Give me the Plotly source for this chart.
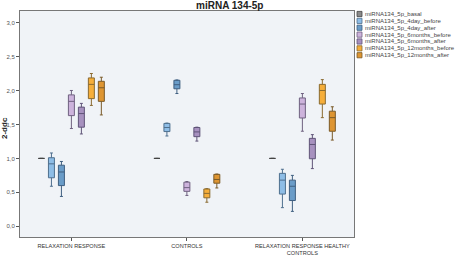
import plotly.graph_objects as go

categories = ["RELAXATION RESPONSE", "CONTROLS", "RELAXATION RESPONSE HEALTHY<br>CONTROLS"]
series_names = ["miRNA134_5p_basal", "miRNA134_5p_4day_before", "miRNA134_5p_4day_after",
                "miRNA134_5p_6months_before", "miRNA134_5p_6months_after",
                "miRNA134_5p_12months_before", "miRNA134_5p_12months_after"]

# per series: values for [RR, CONTROLS, RR healthy controls]
basal_low = [1.0, 1.0, 1.0]
basal_q1 = [1.0, 1.0, 1.0]
basal_med = [1.0, 1.0, 1.0]
basal_q3 = [1.0, 1.0, 1.0]
basal_high = [1.0, 1.0, 1.0]

d4b_low = [0.59, 1.33, 0.275]
d4b_q1 = [0.715, 1.395, 0.475]
d4b_med = [0.92, 1.455, 0.68]
d4b_q3 = [1.01, 1.515, 0.78]
d4b_high = [1.08, 1.52, 0.84]

d4a_low = [0.44, 1.955, 0.22]
d4a_q1 = [0.60, 2.025, 0.38]
d4a_med = [0.80, 2.085, 0.59]
d4a_q3 = [0.90, 2.15, 0.68]
d4a_high = [0.955, 2.155, 0.75]

m6b_low = [1.44, 0.455, 1.40]
m6b_q1 = [1.63, 0.515, 1.595]
m6b_med = [1.84, 0.57, 1.80]
m6b_q3 = [1.935, 0.65, 1.89]
m6b_high = [2.0, 0.66, 1.955]

m6a_low = [1.36, 1.255, 0.85]
m6a_q1 = [1.46, 1.32, 0.995]
m6a_med = [1.66, 1.39, 1.205]
m6a_q3 = [1.755, 1.455, 1.295]
m6a_high = [1.81, 1.46, 1.35]

m12b_low = [1.78, 0.355, 1.60]
m12b_q1 = [1.88, 0.42, 1.80]
m12b_med = [2.09, 0.485, 2.0]
m12b_q3 = [2.185, 0.55, 2.09]
m12b_high = [2.25, 0.555, 2.16]

m12a_low = [1.64, 0.565, 1.27]
m12a_q1 = [1.84, 0.635, 1.40]
m12a_med = [2.04, 0.69, 1.60]
m12a_q3 = [2.135, 0.765, 1.695]
m12a_high = [2.195, 0.77, 1.76]

stats = [
    (basal_low, basal_q1, basal_med, basal_q3, basal_high),
    (d4b_low, d4b_q1, d4b_med, d4b_q3, d4b_high),
    (d4a_low, d4a_q1, d4a_med, d4a_q3, d4a_high),
    (m6b_low, m6b_q1, m6b_med, m6b_q3, m6b_high),
    (m6a_low, m6a_q1, m6a_med, m6a_q3, m6a_high),
    (m12b_low, m12b_q1, m12b_med, m12b_q3, m12b_high),
    (m12a_low, m12a_q1, m12a_med, m12a_q3, m12a_high),
]
fills = ["#8a8a8a", "#8ebde6", "#6a9cc8", "#cdb3dc", "#a791bf", "#f6ae3a", "#de9532"]
lines = ["#444444", "#4e6f8e", "#3f5f80", "#6f6180", "#5f5478", "#8a6a30", "#7a5a28"]

W, H = 455, 261
ML, MR, MT, MB = 20, 101, 11, 24
PW, PH = W - ML - MR, H - MT - MB
FONT = "Liberation Sans"

fig = go.Figure()
for name, (lo, q1, med, q3, hi), fc, lc in zip(series_names, stats, fills, lines):
    fig.add_trace(go.Box(
        name=name, x=categories, lowerfence=lo, q1=q1, median=med, q3=q3, upperfence=hi,
        fillcolor=fc, line=dict(color=lc, width=1), whiskerwidth=0.5, showlegend=False,
    ))

# manual compact legend (plotly's legend rows are too tall for this layout)
def px_x(p):
    return (p - ML) / PW

def px_y(p):
    return (H - MB - p) / PH

shapes = []
annotations = []
for i, (name, fc, lc) in enumerate(zip(series_names, fills, lines)):
    cy = 14 + i * 6.87
    shapes.append(dict(type="rect", xref="paper", yref="paper",
                       x0=px_x(357), x1=px_x(362), y0=px_y(cy + 2.6), y1=px_y(cy - 2.6),
                       fillcolor=fc, line=dict(color=lc, width=0.8)))
    annotations.append(dict(text=name, xref="paper", yref="paper", x=px_x(362.5), y=px_y(cy),
                            xanchor="left", yanchor="middle", showarrow=False,
                            font=dict(family=FONT, size=6, color="#444444")))

annotations.append(dict(text="<b>2-ddc</b>", xref="paper", yref="paper", x=px_x(4), y=px_y(128),
                        xanchor="center", yanchor="middle", textangle=-90, showarrow=False,
                        font=dict(family=FONT, size=8, color="#222222")))

fig.update_layout(
    width=W, height=H,
    margin=dict(l=ML, r=MR, t=MT, b=MB),
    boxmode="group", boxgap=0.395, boxgroupgap=0.4,
    paper_bgcolor="white", plot_bgcolor="#f0f3f7",
    separators=",.",
    font=dict(family=FONT, size=6, color="#333333"),
    title=dict(text="<b>miRNA 134-5p</b>", x=0.505, xanchor="center", y=0.978, yanchor="middle",
               font=dict(family=FONT, size=10, color="#222222")),
    showlegend=False,
    shapes=shapes, annotations=annotations,
)
fig.update_xaxes(range=[-0.445, 2.447], showline=True, linecolor="#777777", mirror=True,
                 ticks="outside", ticklen=3, tickcolor="#555555", showgrid=False,
                 tickfont=dict(family=FONT, size=5.6, color="#333333"), automargin=False)
fig.update_yaxes(range=[-0.157, 3.17], showline=True, linecolor="#777777", mirror=True,
                 ticks="outside", ticklen=3, tickcolor="#555555", showgrid=False, zeroline=False,
                 tickvals=[0, 0.5, 1.0, 1.5, 2.0, 2.5, 3.0], tickformat=".1f",
                 tickfont=dict(family=FONT, size=6, color="#555555"), automargin=False)
fig.write_html("out.html")
